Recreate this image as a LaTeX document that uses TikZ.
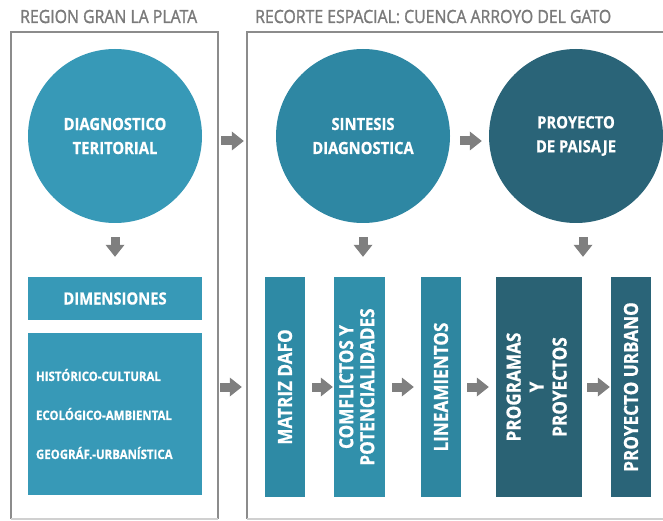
\documentclass[tikz,border=0pt]{standalone}
\usepackage{fontspec}
\setmainfont[FakeStretch=0.88,BoldFeatures={FakeBold=0.6}]{Open Sans}
\newfontfamily\titulofont[FakeStretch=0.87,FakeBold=1.4]{Open Sans}
\usepackage{graphicx}
\usetikzlibrary{arrows.meta,calc}

\definecolor{azul1}{HTML}{3799B7}
\definecolor{azul2}{HTML}{2E87A3}
\definecolor{azul3}{HTML}{2A6478}
\definecolor{azul4}{HTML}{2E8AA5}
\definecolor{azul5}{HTML}{3190AB}
\definecolor{azul6}{HTML}{2E86A0}
\definecolor{azul7}{HTML}{2A6274}
\definecolor{gris}{HTML}{8C8C8C}
\definecolor{grisclaro}{HTML}{D0D0D0}
\definecolor{gristexto}{HTML}{7A7A7A}
\definecolor{flechagris}{HTML}{7F7F7F}

\begin{document}
\begin{tikzpicture}[x=1pt,y=-1pt,
	circulo/.style={circle,minimum size=174pt,inner sep=0pt,text=white,align=center,font=\bfseries\fontsize{16.8}{24}\selectfont},
	caja/.style={rectangle,inner sep=0pt,text=white,font=\bfseries\fontsize{19.5}{21}\selectfont},
	marco/.style={draw=gris,line width=2pt},
	flecha/.style={draw=flechagris,line width=9pt,-{Triangle[length=12pt,width=19pt,line width=0pt]},shorten <=7pt,shorten >=7pt},
	titulo/.style={anchor=base west,inner sep=0pt,text=gristexto,font=\titulofont\fontsize{18.2}{20}\selectfont}]
	\useasboundingbox (0,0) rectangle (663,521);
	% marcos
	\draw[marco] (11,519) -- (11,32) -- (218,32) -- (218,519);
	\draw[marco,draw=grisclaro] (11,519) -- (218,519);
	\draw[marco] (663,32) -- (247,32) -- (247,519);
	\draw[marco,draw=grisclaro] (247,519) -- (663,519);
	\node[titulo] (tizq) at (20,23) {REGION GRAN LA PLATA};
	\node[titulo] (tder) at (255,23) {RECORTE ESPACIAL: CUENCA ARROYO DEL GATO};
	% circulos
	\node[circulo,fill=azul1] (diag) at (115,136) {DIAGNOSTICO\\TERITORIAL};
	\node[circulo,fill=azul2] (sint) at (363,136) {SINTESIS\\DIAGNOSTICA};
	\node[circulo,fill=azul3] (proy) at (576,136) {PROYECTO\\DE PAISAJE};
	% cajas
	\node[caja,fill=azul1,minimum width=174pt,minimum height=43pt,font=\bfseries\fontsize{16.8}{20}\selectfont] (dim) at (115,298.5) {DIMENSIONES};
	\node[caja,fill=azul1,minimum width=174pt,minimum height=162pt,text width=158pt,align=left,font=\bfseries\fontsize{13}{39}\selectfont] (dimtxt) at (115,414) {HISTÓRICO-CULTURAL\\ECOLÓGICO-AMBIENTAL\\GEOGRÁF.-URBANÍSTICA};
	\node[caja,fill=azul4,minimum width=40pt,minimum height=220pt] (dafo) at (285,387) {\rotatebox{90}{MATRIZ DAFO}};
	\node[caja,fill=azul5,minimum width=51pt,minimum height=220pt] (conf) at (359.5,387) {\rotatebox{90}{\begin{tabular}{@{}c@{}}COMFLICTOS Y\\POTENCIALIDADES\end{tabular}}};
	\node[caja,fill=azul6,minimum width=40pt,minimum height=220pt] (lin) at (441,387) {\rotatebox{90}{LINEAMIENTOS}};
	\node[caja,fill=azul7,minimum width=86pt,minimum height=220pt,font=\bfseries\fontsize{19.5}{23}\selectfont] (prog) at (539,387) {\rotatebox{90}{\begin{tabular}{@{}c@{}}PROGRAMAS\\Y\\PROYECTOS\end{tabular}}};
	\node[caja,fill=azul3,minimum width=40pt,minimum height=220pt] (urb) at (631,387) {\rotatebox{90}{PROYECTO URBANO}};
	% flechas
	\draw[flecha,shorten <=14pt,shorten >=20pt] (diag) -- (dim);
	\draw[flecha,shorten <=19pt,shorten >=32pt] ([yshift=-5pt]diag.east) -- ([yshift=-5pt]sint.west);
	\draw[flecha,shorten <=10pt,shorten >=7pt] ([yshift=-5pt]sint.east) -- ([yshift=-5pt]proy.west);
	\draw[flecha,shorten <=14pt,shorten >=20pt] (sint.south) -- (sint.south |- conf.north);
	\draw[flecha,shorten <=14pt,shorten >=20pt] ([xshift=7pt]proy.south) -- ([xshift=7pt]proy.south |- prog.north);
	\draw[flecha,shorten <=18pt,shorten >=23pt] (dimtxt.east |- dafo.center) -- (dafo);
	\draw[flecha,shorten >=1pt] (dafo) -- (conf);
	\draw[flecha] (conf) -- (lin);
	\draw[flecha,shorten <=6pt] (lin) -- (prog);
	\draw[flecha,shorten <=5pt,shorten >=1pt] (prog) -- (urb);
\end{tikzpicture}
\end{document}
